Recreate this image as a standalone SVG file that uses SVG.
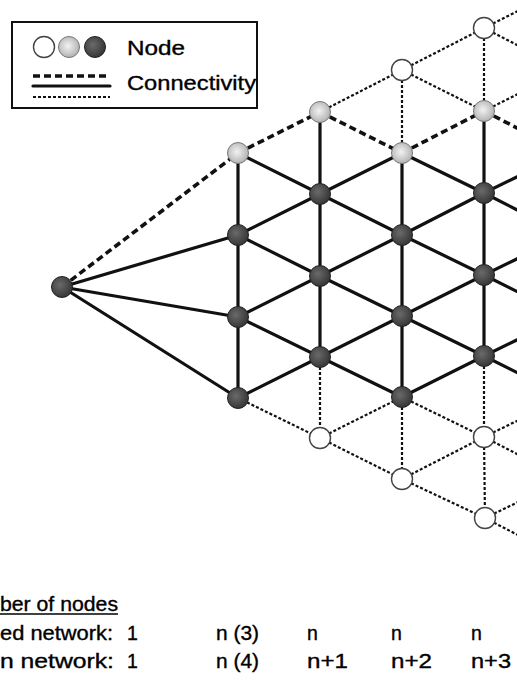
<svg xmlns="http://www.w3.org/2000/svg" width="517" height="680" viewBox="0 0 517 680">
<defs>
<radialGradient id="gDark" cx="0.4" cy="0.4" r="0.65">
<stop offset="0" stop-color="#6a6a6a"/>
<stop offset="1" stop-color="#333"/>
</radialGradient>
<radialGradient id="gLight" cx="0.45" cy="0.45" r="0.65">
<stop offset="0" stop-color="#f2f2f2"/>
<stop offset="1" stop-color="#a8a8a8"/>
</radialGradient>
</defs>
<style>
.s{stroke:#111;stroke-width:3.2;fill:none;stroke-linecap:round}
.d{stroke:#111;stroke-width:3.6;fill:none;stroke-dasharray:7 4}
.t{stroke:#111;stroke-width:2.2;fill:none;stroke-dasharray:3 2}
.dark{fill:url(#gDark);stroke:#222;stroke-width:1}
.light{fill:url(#gLight);stroke:#777;stroke-width:1}
.white{fill:#fff;stroke:#444;stroke-width:1.4}
text{font-family:"Liberation Sans",Arial,sans-serif;fill:#000;stroke:#000;stroke-width:0.35}
.lg{font-size:20px}
.bt{font-size:19.5px}
</style>
<rect width="517" height="680" fill="#fff"/>

<g id="legend">
<rect x="12" y="22" width="245" height="86" fill="#fff" stroke="#111" stroke-width="2"/>
<circle class="white" cx="44" cy="47" r="10.5"/>
<circle class="light" cx="69" cy="47" r="10.5"/>
<circle class="dark" cx="95" cy="47" r="10.5"/>
<text class="lg" x="127" y="55" textLength="58" lengthAdjust="spacingAndGlyphs">Node</text>
<line class="d" x1="33" y1="76" x2="110" y2="76" stroke-width="2.8" stroke-dasharray="6 3"/>
<line class="s" x1="33" y1="86" x2="110" y2="86" stroke-linecap="butt"/>
<line class="t" x1="33" y1="97" x2="110" y2="97" stroke-width="1.8"/>
<text class="lg" x="127" y="90" textLength="129" lengthAdjust="spacingAndGlyphs">Connectivity</text>
</g>

<g id="connectors">
<line class="s" x1="62" y1="287" x2="238" y2="235"/>
<line class="s" x1="62" y1="287" x2="238" y2="317"/>
<line class="s" x1="62" y1="287" x2="238" y2="398"/>
<line class="s" x1="238" y1="153" x2="238" y2="235"/>
<line class="s" x1="238" y1="235" x2="238" y2="317"/>
<line class="s" x1="238" y1="317" x2="238" y2="398"/>
<line class="s" x1="238" y1="153" x2="320" y2="194"/>
<line class="s" x1="238" y1="235" x2="320" y2="194"/>
<line class="s" x1="238" y1="235" x2="320" y2="276"/>
<line class="s" x1="238" y1="317" x2="320" y2="276"/>
<line class="s" x1="238" y1="317" x2="320" y2="357"/>
<line class="s" x1="238" y1="398" x2="320" y2="357"/>
<line class="s" x1="320" y1="112" x2="320" y2="194"/>
<line class="s" x1="320" y1="194" x2="320" y2="276"/>
<line class="s" x1="320" y1="276" x2="320" y2="357"/>
<line class="s" x1="320" y1="194" x2="402" y2="153"/>
<line class="s" x1="320" y1="194" x2="402" y2="235"/>
<line class="s" x1="320" y1="276" x2="402" y2="235"/>
<line class="s" x1="320" y1="276" x2="402" y2="316"/>
<line class="s" x1="320" y1="357" x2="402" y2="316"/>
<line class="s" x1="320" y1="357" x2="402" y2="397"/>
<line class="s" x1="402" y1="153" x2="402" y2="235"/>
<line class="s" x1="402" y1="235" x2="402" y2="316"/>
<line class="s" x1="402" y1="316" x2="402" y2="397"/>
<line class="s" x1="402" y1="153" x2="484" y2="193"/>
<line class="s" x1="402" y1="235" x2="484" y2="193"/>
<line class="s" x1="402" y1="235" x2="484" y2="275"/>
<line class="s" x1="402" y1="316" x2="484" y2="275"/>
<line class="s" x1="402" y1="316" x2="484" y2="356"/>
<line class="s" x1="402" y1="397" x2="484" y2="356"/>
<line class="s" x1="484" y1="111" x2="484" y2="193"/>
<line class="s" x1="484" y1="193" x2="484" y2="275"/>
<line class="s" x1="484" y1="275" x2="484" y2="356"/>
<line class="s" x1="484" y1="193" x2="566" y2="153"/>
<line class="s" x1="484" y1="193" x2="566" y2="235"/>
<line class="s" x1="484" y1="275" x2="566" y2="235"/>
<line class="s" x1="484" y1="275" x2="566" y2="316"/>
<line class="s" x1="484" y1="356" x2="566" y2="316"/>
<line class="s" x1="484" y1="356" x2="566" y2="397"/>

<line class="d" x1="62" y1="287" x2="238" y2="153"/>
<line class="d" x1="238" y1="153" x2="320" y2="112"/>
<line class="d" x1="320" y1="112" x2="402" y2="153"/>
<line class="d" x1="402" y1="153" x2="484" y2="111"/>
<line class="d" x1="484" y1="111" x2="566" y2="153"/>

<line class="t" x1="238" y1="398" x2="320" y2="438"/>
<line class="t" x1="320" y1="357" x2="320" y2="438"/>
<line class="t" x1="320" y1="112" x2="402" y2="70"/>
<line class="t" x1="320" y1="438" x2="402" y2="397"/>
<line class="t" x1="320" y1="438" x2="402" y2="479"/>
<line class="t" x1="402" y1="70" x2="402" y2="153"/>
<line class="t" x1="402" y1="397" x2="402" y2="479"/>
<line class="t" x1="402" y1="70" x2="484" y2="28"/>
<line class="t" x1="402" y1="70" x2="484" y2="111"/>
<line class="t" x1="402" y1="397" x2="484" y2="437"/>
<line class="t" x1="402" y1="479" x2="484" y2="437"/>
<line class="t" x1="402" y1="479" x2="485" y2="518"/>
<line class="t" x1="484" y1="28" x2="484" y2="111"/>
<line class="t" x1="484" y1="356" x2="484" y2="437"/>
<line class="t" x1="484" y1="437" x2="485" y2="518"/>
<line class="t" x1="484" y1="28" x2="566" y2="-13"/>
<line class="t" x1="484" y1="28" x2="566" y2="70"/>
<line class="t" x1="484" y1="111" x2="566" y2="70"/>
<line class="t" x1="484" y1="437" x2="566" y2="397"/>
<line class="t" x1="484" y1="437" x2="566" y2="479"/>
<line class="t" x1="485" y1="518" x2="566" y2="479"/>
<line class="t" x1="485" y1="518" x2="566" y2="560"/>
</g>

<g id="n-L"><circle class="dark" cx="62" cy="287" r="10.5"/></g>
<g id="n-A1"><circle class="light" cx="238" cy="153" r="10.5"/></g>
<g id="n-A2"><circle class="dark" cx="238" cy="235" r="10.5"/></g>
<g id="n-A3"><circle class="dark" cx="238" cy="317" r="10.5"/></g>
<g id="n-A4"><circle class="dark" cx="238" cy="398" r="10.5"/></g>
<g id="n-B1"><circle class="light" cx="320" cy="112" r="10.5"/></g>
<g id="n-B2"><circle class="dark" cx="320" cy="194" r="10.5"/></g>
<g id="n-B3"><circle class="dark" cx="320" cy="276" r="10.5"/></g>
<g id="n-B4"><circle class="dark" cx="320" cy="357" r="10.5"/></g>
<g id="n-B5"><circle class="white" cx="320" cy="438" r="10.5"/></g>
<g id="n-C0"><circle class="white" cx="402" cy="70" r="10.5"/></g>
<g id="n-C1"><circle class="light" cx="402" cy="153" r="10.5"/></g>
<g id="n-C2"><circle class="dark" cx="402" cy="235" r="10.5"/></g>
<g id="n-C3"><circle class="dark" cx="402" cy="316" r="10.5"/></g>
<g id="n-C4"><circle class="dark" cx="402" cy="397" r="10.5"/></g>
<g id="n-C5"><circle class="white" cx="402" cy="479" r="10.5"/></g>
<g id="n-D0"><circle class="white" cx="484" cy="28" r="10.5"/></g>
<g id="n-D1"><circle class="light" cx="484" cy="111" r="10.5"/></g>
<g id="n-D2"><circle class="dark" cx="484" cy="193" r="10.5"/></g>
<g id="n-D3"><circle class="dark" cx="484" cy="275" r="10.5"/></g>
<g id="n-D4"><circle class="dark" cx="484" cy="356" r="10.5"/></g>
<g id="n-D5"><circle class="white" cx="484" cy="437" r="10.5"/></g>
<g id="n-D6"><circle class="white" cx="485" cy="518" r="10.5"/></g>

<g id="table">
<text class="bt" x="0" y="611" textLength="118" lengthAdjust="spacingAndGlyphs">ber of nodes</text>
<line x1="0" y1="614" x2="118" y2="614" stroke="#000" stroke-width="1.3"/>
<text class="bt" x="0" y="640" textLength="113" lengthAdjust="spacingAndGlyphs">ed network:</text>
<text class="bt" x="0" y="668" textLength="114" lengthAdjust="spacingAndGlyphs">n network:</text>
<text class="bt" x="127" y="640">1</text>
<text class="bt" x="127" y="668">1</text>
<text class="bt" x="216" y="640" textLength="43" lengthAdjust="spacingAndGlyphs">n (3)</text>
<text class="bt" x="216" y="668" textLength="43" lengthAdjust="spacingAndGlyphs">n (4)</text>
<text class="bt" x="307" y="640">n</text>
<text class="bt" x="307" y="668" textLength="41" lengthAdjust="spacingAndGlyphs">n+1</text>
<text class="bt" x="391" y="640">n</text>
<text class="bt" x="391" y="668" textLength="41" lengthAdjust="spacingAndGlyphs">n+2</text>
<text class="bt" x="471" y="640">n</text>
<text class="bt" x="471" y="668" textLength="40" lengthAdjust="spacingAndGlyphs">n+3</text>
</g>
</svg>
